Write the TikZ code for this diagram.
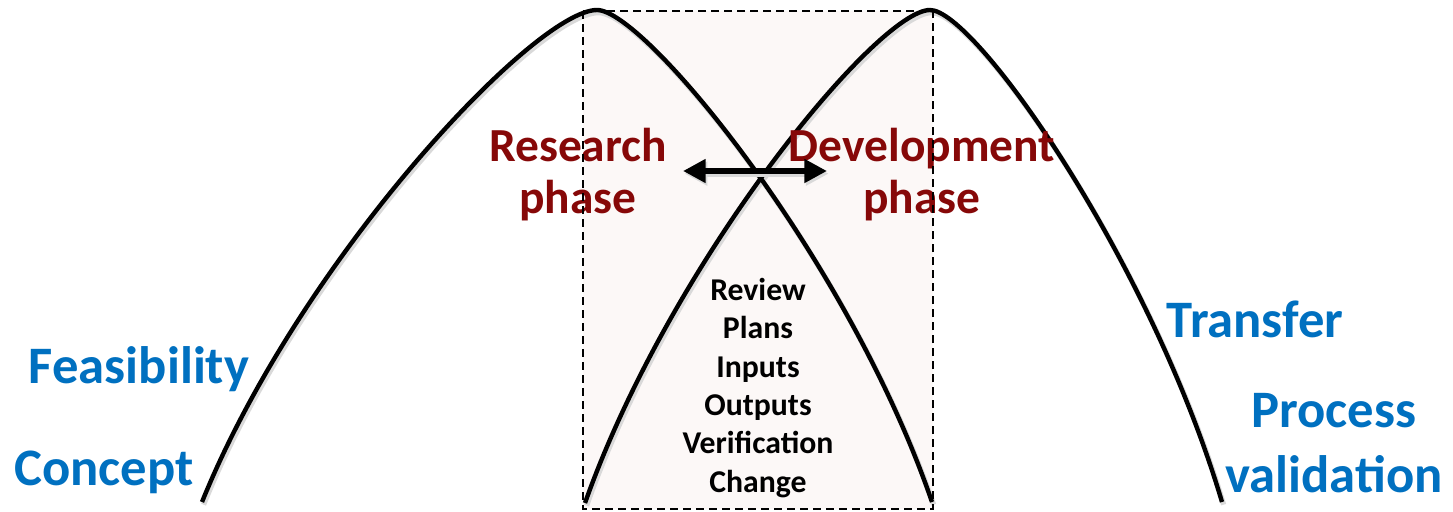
\documentclass[tikz,border=0pt]{standalone}
\usepackage{fontspec}
\setmainfont{Carlito}
\usetikzlibrary{arrows.meta}
\definecolor{phasered}{RGB}{134,8,8}
\definecolor{stageblue}{RGB}{0,112,192}
\definecolor{overlapfill}{RGB}{252,248,247}
\begin{document}
\begin{tikzpicture}[x=0.75pt,y=-0.75pt,
  curve/.style={line width=3.3pt, line join=round},
  softshadow/.style={line width=3.9pt, draw=black!15,
    transform canvas={shift={(1.2pt,-2pt)}}},
  overlap/.style={draw=black, line width=1.3pt, dash pattern=on 6pt off 3.75pt},
  phasetext/.style={font=\bfseries\fontsize{35.6}{39}\selectfont, text=phasered,
    align=center, inner sep=0pt, anchor=base},
  stagetext/.style={font=\bfseries\fontsize{39.5}{48.75}\selectfont, text=stageblue,
    align=center, inner sep=0pt, anchor=base},
  itemtext/.style={font=\bfseries\fontsize{23.8}{28.7}\selectfont,
    align=center, inner sep=0pt, anchor=base},
  twoway/.style={line width=4.6pt, {Triangle[length=17pt,width=17pt]}-{Triangle[length=17pt,width=17pt]}}
]
\useasboundingbox (0,0) rectangle (1453,511);

% overlap window between the two phases
\fill[overlapfill] (583,11) rectangle (933,509);

% research and development curves (soft drop shadow first)
\draw[softshadow] (202,502) .. controls (300,260) and (535,10) .. (597,10)
  .. controls (645,10) and (849,260) .. (932,502);
\draw[softshadow] (585,503) .. controls (671,260) and (878,10) .. (930,10)
  .. controls (975,10) and (1150,260) .. (1222,502);
\draw[curve] (202,502) .. controls (300,260) and (535,10) .. (597,10)
  .. controls (645,10) and (849,260) .. (932,502);
\draw[curve] (585,503) .. controls (671,260) and (878,10) .. (930,10)
  .. controls (975,10) and (1150,260) .. (1222,502);

% phase titles (anchored on the baseline of their last line)
\node[phasetext] (research) at (578,213) {Research\\phase};
\node[phasetext] (development) at (922,213) {Development\\phase};

% dashed outline of the overlap window
\draw[overlap] (583,11) rectangle (933,509);

% two-way arrow at the crossing point
\coordinate (arrL) at (683,171);
\coordinate (arrR) at (827,171);
\draw[twoway, draw=black!15, transform canvas={shift={(1.2pt,-2pt)}}] (arrL) -- (arrR);
\draw[twoway] (arrL) -- (arrR);

% activities inside the overlap
\node[itemtext] (items) at (758,492)
  {Review\\Plans\\Inputs\\Outputs\\Verification\\Change};

% stage labels
\node[stagetext] (feasibility) at (139,383) {Feasibility};
\node[stagetext] (concept) at (104,485) {Concept};
\node[stagetext] (transfer) at (1255,337) {Transfer};
\node[stagetext] (validation) at (1334,492) {Process\\validation};
\end{tikzpicture}
\end{document}
